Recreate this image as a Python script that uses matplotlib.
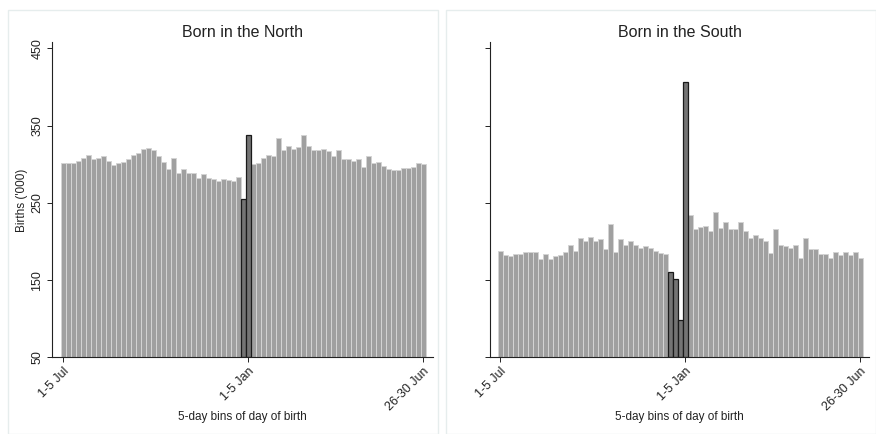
import matplotlib
matplotlib.use('Agg')
import matplotlib.pyplot as plt
import numpy as np
from matplotlib.patches import Rectangle

plt.rcParams['font.family'] = ['Liberation Sans', 'DejaVu Sans']

# births ('000) per 5-day bin, 1-5 Jul ... 26-30 Jun (73 bins)
north = [301, 302, 301, 304, 308, 312, 307, 308, 310, 304, 299, 302,
         303, 307, 312, 314, 320, 321, 318, 310, 303, 294, 308, 289,
         294, 288, 289, 282, 287, 282, 281, 278, 281, 280, 278, 284,
         255, 338,
         300, 302, 308, 312, 311, 334, 318, 323, 320, 322, 338, 324,
         318, 318, 320, 317, 310, 318, 307, 307, 304, 307, 297, 310,
         302, 303, 298, 294, 292, 292, 295, 295, 296, 301, 300]
south = [187, 182, 181, 184, 184, 186, 186, 186, 177, 184, 177, 181,
         182, 186, 195, 187, 205, 201, 206, 201, 203, 190, 223, 186,
         203, 196, 200, 195, 191, 194, 191, 187, 185, 184,
         160, 151, 98, 407,
         234, 216, 219, 220, 213, 238, 218, 225, 216, 216, 225, 214,
         205, 208, 205, 201, 185, 216, 196, 194, 191, 196, 178, 204,
         190, 190, 184, 184, 178, 186, 183, 186, 182, 186, 179]
north_dark = [36, 37]
south_dark = [34, 35, 36, 37]

titles = ['Born in the North', 'Born in the South']
tick_pos = [0, 37, 72]
tick_labels = ['1-5 Jul', '1-5 Jan', '26-30 Jun']

fig = plt.figure(figsize=(8.76, 4.34), dpi=100)

# faint frames around each sub-graph
for x0 in [8, 446]:
    fig.patches.append(Rectangle((x0 / 876, 0), 430 / 876, 424 / 434,
                                 transform=fig.transFigure, fill=False,
                                 edgecolor='#e6eded', lw=1))

axes = [fig.add_axes([0.059, 0.1767, 0.435, 0.7258]),
        fig.add_axes([0.5594, 0.1767, 0.433, 0.7258])]
xlims = [(-2.32, 73.88), (-2.06, 73.8)]

for ax, vals, dark, title, xl in zip(axes, [north, south], [north_dark, south_dark], titles, xlims):
    vals = np.array(vals)
    idx = np.arange(len(vals))
    light = np.array([i not in dark for i in idx])
    ax.bar(idx[light], vals[light] - 50, bottom=50, width=1.0,
           color='#a0a0a0', edgecolor='#d4d4d4', lw=0.7)
    ax.bar(idx[~light], vals[~light] - 50, bottom=50, width=0.95,
           color='#747474', edgecolor='#1a1a1a', lw=0.9)
    ax.set_xlim(*xl)
    ax.set_ylim(50, 457.8)
    ax.set_yticks([50, 150, 250, 350, 450])
    ax.set_xticks(tick_pos)
    ax.set_xticklabels(tick_labels, rotation=45, ha='right', rotation_mode='anchor', fontsize=9)
    ax.spines['top'].set_visible(False)
    ax.spines['right'].set_visible(False)
    for s in ['left', 'bottom']:
        ax.spines[s].set_linewidth(0.8)
        ax.spines[s].set_color('#222222')
    ax.tick_params(length=3.5, width=0.7, colors='#222222', labelsize=9, pad=2.5)
    ax.set_title(title, fontsize=11.5, color='#222222', pad=4)
    ax.set_xlabel('5-day bins of day of birth', fontsize=8.5, color='#222222')
    ax.xaxis.set_label_coords(0.5, -0.172)

axes[0].set_yticklabels(['50', '150', '250', '350', '450'], rotation=90, va='center')
axes[0].set_ylabel("Births ('000)", fontsize=8.5, color='#222222')
axes[0].yaxis.set_label_coords(-0.062, 0.5)
axes[1].set_yticklabels([])

fig.savefig('out.png', dpi=100)
